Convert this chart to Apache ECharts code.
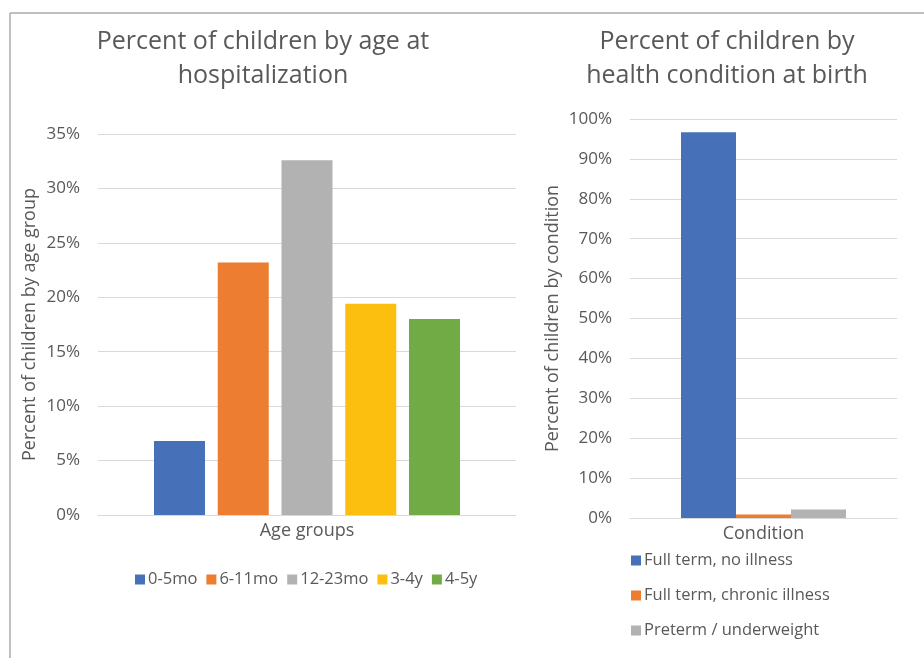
<!DOCTYPE html>
<html>
<head>
<meta charset="utf-8">
<script src="https://cdn.jsdelivr.net/npm/echarts@6/dist/echarts.min.js"></script>
<style>html,body{margin:0;padding:0;background:#fff}#c{width:924px;height:658px}</style>
</head>
<body>
<div id="c"></div>
<script>
// Left chart: age at hospitalization
const ageCategory = ['Age groups'];
const ageGroups = ['0-5mo', '6-11mo', '12-23mo', '3-4y', '4-5y'];
const ageValues = [6.8, 23.2, 32.6, 19.4, 18.0];
const ageTicks = [0, 5, 10, 15, 20, 25, 30, 35];
// Right chart: health condition at birth
const condCategory = ['Condition'];
const conditions = ['Full term, no illness', 'Full term, chronic illness', 'Preterm / underweight'];
const condValues = [96.7, 0.9, 2.1];

const ageColors = ['#4670B8', '#EC7D31', '#B2B2B2', '#FCBF10', '#70AB45'];
const condColors = ['#4670B8', '#EC7D31', '#B2B2B2'];
const FONT = 'Open Sans';
const TXT = '#595959';

const chart = echarts.init(document.getElementById('c'));

const series = [];
ageGroups.forEach((g, i) => {
  series.push({
    name: g, type: 'bar', xAxisIndex: 0, yAxisIndex: 0,
    data: [ageValues[i]], barWidth: 51, barGap: '25%',
    itemStyle: { color: ageColors[i] }
  });
});
conditions.forEach((c, i) => {
  series.push({
    name: c, type: 'bar', xAxisIndex: 1, yAxisIndex: 1,
    data: [condValues[i]], barWidth: 55, barGap: '0%',
    itemStyle: { color: condColors[i] }
  });
});

const yLabel = { color: TXT, fontFamily: FONT, fontSize: 17, formatter: '{value}%', margin: 18 };
const split = { show: true, lineStyle: { color: '#D9D9D9', width: 1 } };

chart.setOption({
  animation: false,
  backgroundColor: '#fff',
  textStyle: { fontFamily: FONT },
  title: [
    { text: 'Percent of children by age at\nhospitalization', left: 258, top: 20, textAlign: 'center',
      textStyle: { color: TXT, fontFamily: FONT, fontSize: 25, fontWeight: 'normal', lineHeight: 34 } },
    { text: 'Percent of children by\nhealth condition at birth', left: 722, top: 20, textAlign: 'center',
      textStyle: { color: TXT, fontFamily: FONT, fontSize: 25, fontWeight: 'normal', lineHeight: 34 } }
  ],
  legend: [
    { data: ageGroups, left: 130, top: 566, orient: 'horizontal', itemWidth: 10, itemHeight: 10, itemGap: 9,
      icon: 'rect', textStyle: { color: TXT, fontFamily: FONT, fontSize: 16.5, padding: [0, 0, 0, -2] } },
    { data: conditions, left: 626, top: 547, orient: 'vertical', itemWidth: 10, itemHeight: 10, itemGap: 18,
      icon: 'rect', textStyle: { color: TXT, fontFamily: FONT, fontSize: 16.5, padding: [0, 0, 0, -2] } }
  ],
  grid: [
    { left: 98, right: 408, top: 134, bottom: 143, containLabel: false },
    { left: 630, right: 27, top: 119, bottom: 140, containLabel: false }
  ],
  xAxis: [
    { type: 'category', gridIndex: 0, data: ageCategory,
      axisLine: { show: true, lineStyle: { color: '#D9D9D9' } }, axisTick: { show: false },
      axisLabel: { color: TXT, fontFamily: FONT, fontSize: 18, margin: 7 } },
    { type: 'category', gridIndex: 1, data: condCategory,
      axisLine: { show: true, lineStyle: { color: '#D9D9D9' } }, axisTick: { show: false },
      axisLabel: { color: TXT, fontFamily: FONT, fontSize: 18, margin: 7 } }
  ],
  yAxis: [
    { type: 'value', gridIndex: 0, min: ageTicks[0], max: ageTicks[ageTicks.length - 1], interval: 5,
      axisLine: { show: false }, axisTick: { show: false }, axisLabel: yLabel, splitLine: split,
      name: 'Percent of children by age group', nameLocation: 'middle', nameRotate: 90, nameGap: 59,
      nameTextStyle: { color: TXT, fontFamily: FONT, fontSize: 18 } },
    { type: 'value', gridIndex: 1, min: 0, max: 100, interval: 10,
      axisLine: { show: false }, axisTick: { show: false }, axisLabel: yLabel, splitLine: split,
      name: 'Percent of children by condition', nameLocation: 'middle', nameRotate: 90, nameGap: 68,
      nameTextStyle: { color: TXT, fontFamily: FONT, fontSize: 18 } }
  ],
  graphic: [
    { type: 'line', shape: { x1: 10, y1: 13, x2: 924, y2: 13 }, style: { stroke: '#ABABAB', lineWidth: 1.5 } },
    { type: 'line', shape: { x1: 10, y1: 13, x2: 10, y2: 658 }, style: { stroke: '#ABABAB', lineWidth: 1.5 } }
  ],
  series: series
});
</script>
</body>
</html>
